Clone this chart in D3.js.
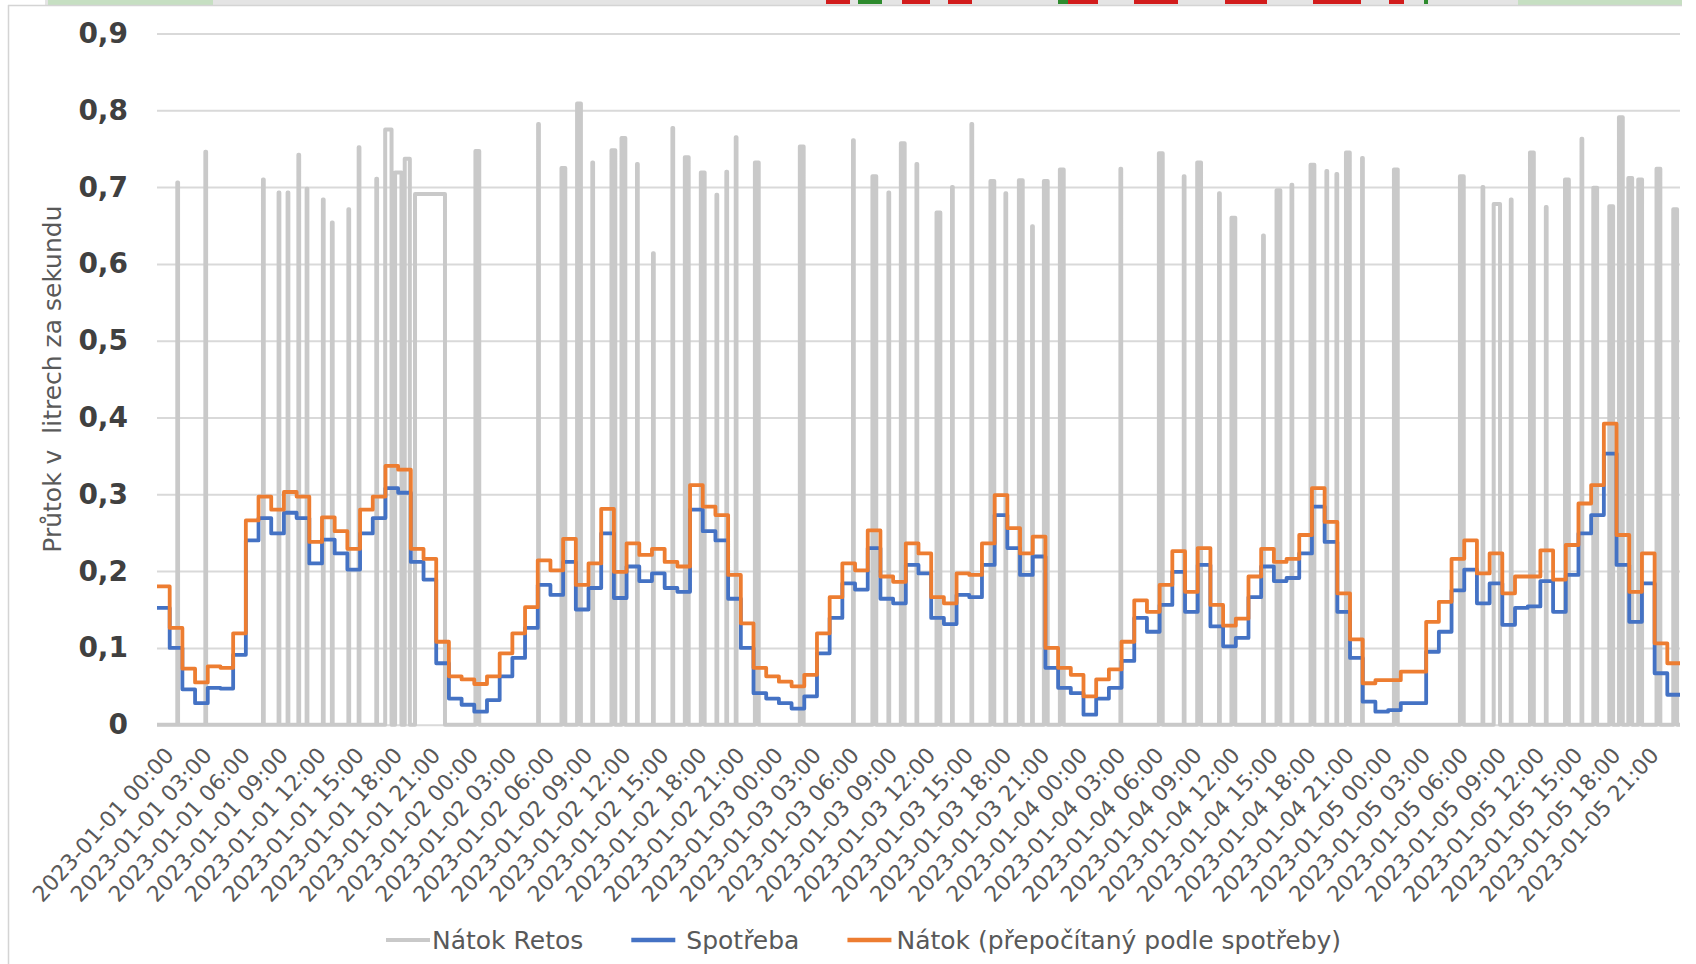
<!DOCTYPE html>
<html>
<head>
<meta charset="utf-8">
<script src="https://cdn.jsdelivr.net/npm/d3@7"></script>
<style>
body { margin: 0; background: #fff; }
text { font-family: "DejaVu Sans", Verdana, sans-serif; }
</style>
</head>
<body>
<script>
// hourly values, 2023-01-01 00:00 .. 2023-01-05 23:00
const spotreba = [
  0.152, 0.100, 0.046, 0.028, 0.048, 0.047, 0.091, 0.240, 0.269, 0.249,
  0.276, 0.269, 0.210, 0.241, 0.223, 0.202, 0.249, 0.269, 0.308, 0.302,
  0.212, 0.189, 0.080, 0.034, 0.026, 0.017, 0.032, 0.063, 0.087, 0.126,
  0.182, 0.169, 0.212, 0.150, 0.178, 0.249, 0.165, 0.206, 0.187, 0.197,
  0.178, 0.173, 0.280, 0.252, 0.240, 0.164, 0.100, 0.041, 0.034, 0.028,
  0.021, 0.037, 0.093, 0.139, 0.184, 0.176, 0.230, 0.164, 0.158, 0.208,
  0.197, 0.139, 0.131, 0.169, 0.166, 0.208, 0.273, 0.230, 0.195, 0.219,
  0.074, 0.048, 0.041, 0.013, 0.034, 0.048, 0.083, 0.139, 0.121, 0.156,
  0.199, 0.147, 0.208, 0.128, 0.102, 0.113, 0.166, 0.206, 0.187, 0.191,
  0.223, 0.284, 0.238, 0.147, 0.087, 0.030, 0.017, 0.019, 0.028, 0.028,
  0.095, 0.121, 0.175, 0.202, 0.158, 0.184, 0.130, 0.152, 0.154, 0.187,
  0.147, 0.195, 0.249, 0.273, 0.353, 0.208, 0.134, 0.184, 0.067, 0.039
];

const natokPrepocet = [
  0.180, 0.126, 0.073, 0.055, 0.076, 0.074, 0.119, 0.266, 0.297, 0.280,
  0.303, 0.297, 0.238, 0.270, 0.252, 0.229, 0.280, 0.297, 0.337, 0.332,
  0.229, 0.216, 0.108, 0.063, 0.059, 0.053, 0.063, 0.093, 0.119, 0.153,
  0.214, 0.201, 0.242, 0.182, 0.210, 0.281, 0.199, 0.236, 0.221, 0.229,
  0.212, 0.206, 0.312, 0.284, 0.273, 0.195, 0.132, 0.074, 0.063, 0.056,
  0.050, 0.065, 0.119, 0.166, 0.210, 0.201, 0.253, 0.193, 0.186, 0.236,
  0.223, 0.166, 0.158, 0.197, 0.195, 0.236, 0.299, 0.256, 0.223, 0.245,
  0.100, 0.074, 0.065, 0.037, 0.059, 0.072, 0.108, 0.162, 0.147, 0.182,
  0.226, 0.173, 0.230, 0.156, 0.129, 0.138, 0.193, 0.229, 0.212, 0.216,
  0.247, 0.308, 0.264, 0.171, 0.111, 0.054, 0.058, 0.058, 0.069, 0.069,
  0.134, 0.160, 0.216, 0.240, 0.197, 0.223, 0.171, 0.193, 0.193, 0.227,
  0.189, 0.234, 0.288, 0.312, 0.392, 0.247, 0.173, 0.223, 0.106, 0.080
];

// Nátok Retos: pump pulses (hours from start, value, duration in hours)
const retosTime = [
  1.63, 3.84, 8.38, 9.61, 10.32, 11.17, 11.82, 13.10, 13.81, 15.11, 15.92, 17.31,
  18.23, 19.01, 19.72, 21.51, 25.24, 30.06, 32.02, 33.25, 34.33, 35.96, 36.75, 37.85,
  39.11, 40.64, 41.74, 43.00, 44.11, 44.89, 45.63, 47.26, 50.80, 54.87, 56.52, 57.66,
  58.76, 59.87, 61.57, 62.67, 64.20, 65.82, 66.88, 68.06, 68.98, 70.03, 71.29, 75.94,
  79.09, 80.93, 82.11, 83.71, 84.81, 87.18, 88.36, 89.42, 91.04, 92.17, 92.96, 93.83,
  94.98, 97.61, 102.81, 104.47, 105.57, 106.70, 108.33, 109.46, 111.09, 112.27, 113.32, 114.58,
  115.34, 116.08, 116.86, 118.30, 119.62
];
const retosValue = [
  0.706, 0.746, 0.710, 0.693, 0.693, 0.742, 0.698, 0.684, 0.654, 0.671, 0.752, 0.711,
  0.775, 0.719, 0.737, 0.691, 0.747, 0.782, 0.725, 0.809, 0.732, 0.748, 0.764, 0.730,
  0.614, 0.777, 0.739, 0.719, 0.690, 0.720, 0.765, 0.732, 0.753, 0.761, 0.714, 0.693,
  0.757, 0.730, 0.667, 0.700, 0.782, 0.708, 0.692, 0.709, 0.649, 0.708, 0.723, 0.724,
  0.744, 0.714, 0.732, 0.692, 0.660, 0.637, 0.696, 0.703, 0.729, 0.721, 0.717, 0.745,
  0.738, 0.723, 0.714, 0.700, 0.678, 0.684, 0.745, 0.674, 0.710, 0.763, 0.699, 0.675,
  0.791, 0.712, 0.710, 0.724, 0.671
];
const retosDur = [
  0.06, 0.06, 0.06, 0.06, 0.06, 0.06, 0.06, 0.06, 0.06, 0.06, 0.06, 0.06,
  0.5, 0.5, 0.4, 2.36, 0.3, 0.06, 0.3, 0.3, 0.06, 0.3, 0.3, 0.06,
  0.06, 0.06, 0.3, 0.3, 0.06, 0.06, 0.06, 0.3, 0.3, 0.06, 0.3, 0.06,
  0.3, 0.06, 0.3, 0.06, 0.06, 0.3, 0.06, 0.3, 0.06, 0.3, 0.3, 0.06,
  0.3, 0.06, 0.3, 0.06, 0.3, 0.06, 0.3, 0.06, 0.3, 0.06, 0.06, 0.3,
  0.06, 0.3, 0.3, 0.06, 0.5, 0.06, 0.3, 0.06, 0.3, 0.06, 0.3, 0.3,
  0.3, 0.3, 0.3, 0.3, 0.3
];

const tickLabels = [
  "2023-01-01 00:00", "2023-01-01 03:00", "2023-01-01 06:00", "2023-01-01 09:00",
  "2023-01-01 12:00", "2023-01-01 15:00", "2023-01-01 18:00", "2023-01-01 21:00",
  "2023-01-02 00:00", "2023-01-02 03:00", "2023-01-02 06:00", "2023-01-02 09:00",
  "2023-01-02 12:00", "2023-01-02 15:00", "2023-01-02 18:00", "2023-01-02 21:00",
  "2023-01-03 00:00", "2023-01-03 03:00", "2023-01-03 06:00", "2023-01-03 09:00",
  "2023-01-03 12:00", "2023-01-03 15:00", "2023-01-03 18:00", "2023-01-03 21:00",
  "2023-01-04 00:00", "2023-01-04 03:00", "2023-01-04 06:00", "2023-01-04 09:00",
  "2023-01-04 12:00", "2023-01-04 15:00", "2023-01-04 18:00", "2023-01-04 21:00",
  "2023-01-05 00:00", "2023-01-05 03:00", "2023-01-05 06:00", "2023-01-05 09:00",
  "2023-01-05 12:00", "2023-01-05 15:00", "2023-01-05 18:00", "2023-01-05 21:00"
];
const yTicks = [0, 0.1, 0.2, 0.3, 0.4, 0.5, 0.6, 0.7, 0.8, 0.9];

const seriesNames = ["Nátok Retos", "Spotřeba", "Nátok (přepočítaný podle spotřeby)"];
const seriesColors = ["#c9c9c9", "#4472c4", "#ed7d31"];

const WIDTH = 1696, HEIGHT = 964;
const PLOT = { LEFT: 157, RIGHT: 1680, TOP: 33.5, BOTTOM: 724.7 };

const parse = d3.timeParse("%Y-%m-%d %H:%M");
const fmt = d3.timeFormat("%Y-%m-%d %H:%M");
const t0 = parse(tickLabels[0]);
const atHour = h => new Date(t0.getTime() + h * 3600e3);

const x = d3.scaleTime()
    .domain([t0, atHour(120)])
    .range([PLOT.LEFT, PLOT.RIGHT]);
const y = d3.scaleLinear()
    .domain([0, 0.9])
    .range([PLOT.BOTTOM, PLOT.TOP]);

const svg = d3.select("body").append("svg")
    .attr("width", WIDTH)
    .attr("height", HEIGHT);

svg.append("rect").attr("width", WIDTH).attr("height", HEIGHT).attr("fill", "#fff");

// cropped strip of the sheet above the chart
const strip = svg.append("g");
strip.append("rect").attr("x", 45).attr("y", 0).attr("width", 1637).attr("height", 5).attr("fill", "#e4e4e4");
strip.append("rect").attr("x", 48).attr("y", 0).attr("width", 165).attr("height", 5).attr("fill", "#c6dfc2");
strip.append("rect").attr("x", 1518).attr("y", 0).attr("width", 164).attr("height", 5).attr("fill", "#c6dfc2");
[[826, 24], [902, 28], [948, 24], [1068, 30], [1134, 44], [1225, 42], [1313, 48], [1389, 15]].forEach(d => {
    strip.append("rect").attr("x", d[0]).attr("y", 0).attr("width", d[1]).attr("height", 4).attr("fill", "#d21c1c");
});
[[858, 24], [1058, 10], [1424, 4]].forEach(d => {
    strip.append("rect").attr("x", d[0]).attr("y", 0).attr("width", d[1]).attr("height", 4).attr("fill", "#2e8b2e");
});
// chart container border
svg.append("line").attr("x1", 8.5).attr("x2", 8.5).attr("y1", 5).attr("y2", HEIGHT).attr("stroke", "#d4d4d4").attr("stroke-width", 1.5);
svg.append("line").attr("x1", 8).attr("x2", 1682).attr("y1", 5.5).attr("y2", 5.5).attr("stroke", "#d4d4d4").attr("stroke-width", 1.5);

// gridlines
svg.append("g")
    .attr("transform", `translate(${PLOT.LEFT},0)`)
    .call(d3.axisLeft(y).tickValues(yTicks).tickSize(-(PLOT.RIGHT - PLOT.LEFT)).tickFormat(""))
    .call(g => g.select(".domain").remove())
    .call(g => g.selectAll("line").attr("stroke", "#d9d9d9").attr("stroke-width", 2));

// y tick labels
svg.append("g")
    .attr("transform", "translate(128,0)")
    .call(d3.axisLeft(y).tickValues(yTicks).tickSize(0).tickPadding(0)
        .tickFormat(d => d === 0 ? "0" : d3.format(".1f")(d).replace(".", ",")))
    .call(g => g.select(".domain").remove())
    .call(g => g.selectAll("text")
        .attr("font-family", "'DejaVu Sans', Verdana, sans-serif")
        .attr("font-size", 28)
        .attr("font-weight", "bold")
        .attr("fill", "#404040"));

// y title
svg.append("text")
    .attr("transform", `translate(61,${(PLOT.TOP + PLOT.BOTTOM) / 2}) rotate(-90)`)
    .attr("text-anchor", "middle")
    .attr("font-size", 25)
    .attr("fill", "#595959")
    .style("white-space", "pre")
    .text("Průtok v  litrech za sekundu");

// x axis labels
svg.append("g")
    .attr("transform", `translate(0,${PLOT.BOTTOM})`)
    .call(d3.axisBottom(x).tickValues(tickLabels.map(parse)).tickFormat(fmt).tickSize(0))
    .call(g => g.select(".domain").remove())
    .call(g => g.selectAll("text")
        .attr("font-family", "'DejaVu Sans', Verdana, sans-serif")
        .attr("font-size", 22)
        .attr("fill", "#595959")
        .attr("x", 0).attr("y", 0).attr("dy", "0.71em")
        .attr("text-anchor", "end")
        .attr("transform", "translate(6,21) rotate(-48)"));

// Nátok Retos pulses
const retosPts = [{ t: 0, v: 0 }];
retosTime.forEach((c, i) => {
    const a = c - retosDur[i] / 2, b = c + retosDur[i] / 2;
    retosPts.push({ t: a, v: 0 }, { t: a, v: retosValue[i] }, { t: b, v: retosValue[i] }, { t: b, v: 0 });
});
retosPts.push({ t: 120, v: 0 });

const line = d3.line()
    .x(d => x(atHour(d.t)))
    .y(d => y(d.v));

svg.append("path")
    .datum(retosPts)
    .attr("d", line)
    .attr("fill", "none")
    .attr("stroke", seriesColors[0])
    .attr("stroke-width", 4)
    .attr("stroke-linejoin", "round");

const stepLine = d3.line()
    .x(d => x(atHour(d.t)))
    .y(d => y(d.v))
    .curve(d3.curveStepAfter);

[spotreba, natokPrepocet].forEach((vals, k) => {
    const pts = vals.map((v, i) => ({ t: i, v: v }));
    pts.push({ t: vals.length, v: vals[vals.length - 1] });
    svg.append("path")
        .datum(pts)
        .attr("d", stepLine)
        .attr("fill", "none")
        .attr("stroke", seriesColors[k + 1])
        .attr("stroke-width", 3.8)
        .attr("stroke-linejoin", "round");
});

// legend (sample line, then label)
const legendTextOffset = [46, 55, 49];
const legend = svg.append("g").attr("transform", "translate(386,940)");
let lx = 0;
seriesNames.forEach((name, i) => {
    const item = legend.append("g").attr("transform", `translate(${lx},0)`);
    item.append("line")
        .attr("x1", 0).attr("x2", 44)
        .attr("stroke", seriesColors[i])
        .attr("stroke-width", i === 0 ? 4 : 4.5);
    const txt = item.append("text")
        .attr("x", legendTextOffset[i])
        .attr("dy", "0.36em")
        .attr("font-size", 25)
        .attr("fill", "#595959")
        .text(name);
    lx += legendTextOffset[i] + txt.node().getComputedTextLength() + 48;
});
</script>
</body>
</html>
